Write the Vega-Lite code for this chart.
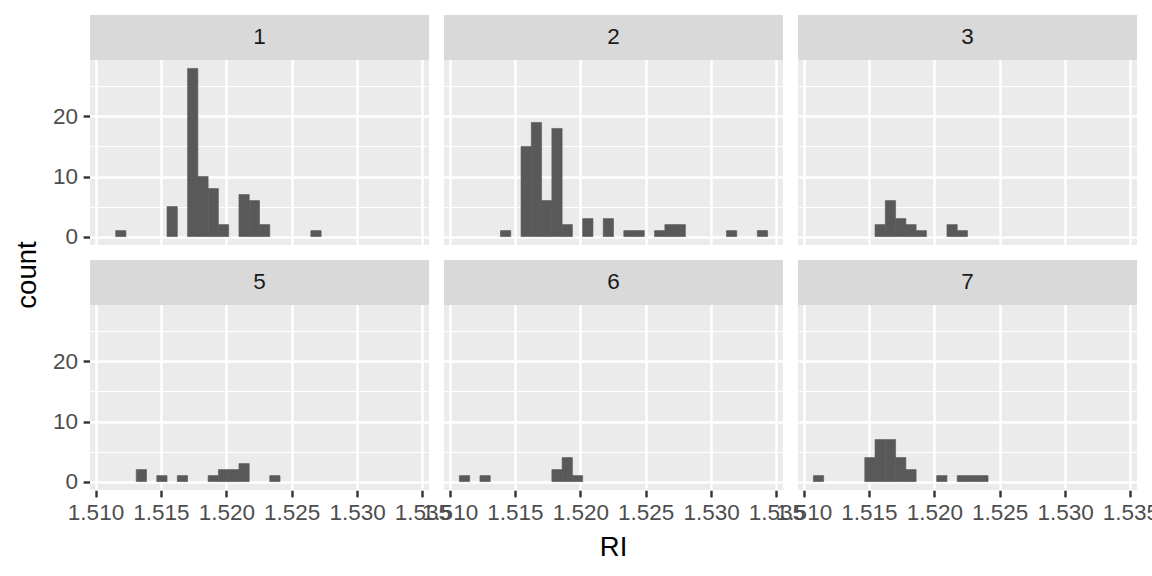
{
  "$schema": "https://vega.github.io/schema/vega-lite/v6.json",
  "autosize": {"type": "pad"},
  "padding": {"left": 8, "top": 15, "right": 15, "bottom": 5},
  "background": "white",
  "config": {
    "font": "Liberation Sans",
    "view": {"stroke": null, "fill": "#EBEBEB"},
    "concat": {"spacing": 4},
    "header": {"labels": false, "title": null, "labelFontSize": 0, "labelPadding": 0},
    "headerFacet": {"labels": false, "title": null, "labelFontSize": 0, "labelPadding": 0}
  },
  "datasets": {
    "hist": [
      {"type": 1, "lo": 1.511543, "hi": 1.512328, "count": 1},
      {"type": 1, "lo": 1.515470, "hi": 1.516256, "count": 5},
      {"type": 1, "lo": 1.517041, "hi": 1.517827, "count": 28},
      {"type": 1, "lo": 1.517827, "hi": 1.518612, "count": 10},
      {"type": 1, "lo": 1.518612, "hi": 1.519398, "count": 8},
      {"type": 1, "lo": 1.519398, "hi": 1.520183, "count": 2},
      {"type": 1, "lo": 1.520969, "hi": 1.521754, "count": 7},
      {"type": 1, "lo": 1.521754, "hi": 1.522540, "count": 6},
      {"type": 1, "lo": 1.522540, "hi": 1.523326, "count": 2},
      {"type": 1, "lo": 1.526468, "hi": 1.527253, "count": 1},
      {"type": 2, "lo": 1.513899, "hi": 1.514685, "count": 1},
      {"type": 2, "lo": 1.515470, "hi": 1.516256, "count": 15},
      {"type": 2, "lo": 1.516256, "hi": 1.517041, "count": 19},
      {"type": 2, "lo": 1.517041, "hi": 1.517827, "count": 6},
      {"type": 2, "lo": 1.517827, "hi": 1.518612, "count": 18},
      {"type": 2, "lo": 1.518612, "hi": 1.519398, "count": 2},
      {"type": 2, "lo": 1.520183, "hi": 1.520969, "count": 3},
      {"type": 2, "lo": 1.521754, "hi": 1.522540, "count": 3},
      {"type": 2, "lo": 1.523326, "hi": 1.524111, "count": 1},
      {"type": 2, "lo": 1.524111, "hi": 1.524897, "count": 1},
      {"type": 2, "lo": 1.525682, "hi": 1.526468, "count": 1},
      {"type": 2, "lo": 1.526468, "hi": 1.527253, "count": 2},
      {"type": 2, "lo": 1.527253, "hi": 1.528039, "count": 2},
      {"type": 2, "lo": 1.531181, "hi": 1.531966, "count": 1},
      {"type": 2, "lo": 1.533537, "hi": 1.534323, "count": 1},
      {"type": 3, "lo": 1.515470, "hi": 1.516256, "count": 2},
      {"type": 3, "lo": 1.516256, "hi": 1.517041, "count": 6},
      {"type": 3, "lo": 1.517041, "hi": 1.517827, "count": 3},
      {"type": 3, "lo": 1.517827, "hi": 1.518612, "count": 2},
      {"type": 3, "lo": 1.518612, "hi": 1.519398, "count": 1},
      {"type": 3, "lo": 1.520969, "hi": 1.521754, "count": 2},
      {"type": 3, "lo": 1.521754, "hi": 1.522540, "count": 1},
      {"type": 5, "lo": 1.513114, "hi": 1.513899, "count": 2},
      {"type": 5, "lo": 1.514685, "hi": 1.515470, "count": 1},
      {"type": 5, "lo": 1.516256, "hi": 1.517041, "count": 1},
      {"type": 5, "lo": 1.518612, "hi": 1.519398, "count": 1},
      {"type": 5, "lo": 1.519398, "hi": 1.520183, "count": 2},
      {"type": 5, "lo": 1.520183, "hi": 1.520969, "count": 2},
      {"type": 5, "lo": 1.520969, "hi": 1.521754, "count": 3},
      {"type": 5, "lo": 1.523326, "hi": 1.524111, "count": 1},
      {"type": 6, "lo": 1.510757, "hi": 1.511543, "count": 1},
      {"type": 6, "lo": 1.512328, "hi": 1.513114, "count": 1},
      {"type": 6, "lo": 1.517827, "hi": 1.518612, "count": 2},
      {"type": 6, "lo": 1.518612, "hi": 1.519398, "count": 4},
      {"type": 6, "lo": 1.519398, "hi": 1.520183, "count": 1},
      {"type": 7, "lo": 1.510757, "hi": 1.511543, "count": 1},
      {"type": 7, "lo": 1.514685, "hi": 1.515470, "count": 4},
      {"type": 7, "lo": 1.515470, "hi": 1.516256, "count": 7},
      {"type": 7, "lo": 1.516256, "hi": 1.517041, "count": 7},
      {"type": 7, "lo": 1.517041, "hi": 1.517827, "count": 4},
      {"type": 7, "lo": 1.517827, "hi": 1.518612, "count": 2},
      {"type": 7, "lo": 1.520183, "hi": 1.520969, "count": 1},
      {"type": 7, "lo": 1.521754, "hi": 1.522540, "count": 1},
      {"type": 7, "lo": 1.522540, "hi": 1.523326, "count": 1},
      {"type": 7, "lo": 1.523326, "hi": 1.524111, "count": 1}
    ]
  },
  "hconcat": [
    {
      "width": 40,
      "height": 520,
      "view": {"fill": null, "stroke": null},
      "data": {"values": [{"label": "count"}]},
      "mark": {"type": "text", "angle": 270, "fontSize": 27.5, "color": "black", "align": "center", "baseline": "middle"},
      "encoding": {"text": {"field": "label", "type": "nominal"}}
    },
    {
      "data": {"name": "hist"},
      "title": {"text": "RI", "orient": "bottom", "anchor": "middle", "frame": "bounds", "fontSize": 27.5, "fontWeight": "normal", "color": "black", "offset": 10, "dx": 8},
      "facet": {"field": "type", "type": "ordinal", "header": {"title": null, "labels": false, "labelFontSize": 0, "labelPadding": 0}},
      "columns": 3,
      "spacing": {"row": 15, "column": 15},
      "spec": {
        "width": 339,
        "height": 230,
        "layer": [
          {
            "mark": {"type": "rect", "fill": "#595959", "stroke": "#595959", "strokeWidth": 0.6},
            "encoding": {
              "x": {
                "field": "lo", "type": "quantitative",
                "scale": {"domain": [1.509579, 1.535501], "nice": false, "zero": false},
                "axis": {
                  "title": null,
                  "domain": false,
                  "values": [1.51, 1.5125, 1.515, 1.5175, 1.52, 1.5225, 1.525, 1.5275, 1.53, 1.5325, 1.535],
                  "labelExpr": "abs(datum.value*200 - round(datum.value*200)) < 0.01 ? format(datum.value, '.3f') : ''",
                  "labelFlush": false,
                  "labelOverlap": false,
                  "labelBound": false,
                  "labelFontSize": 22.5,
                  "labelColor": "#4D4D4D",
                  "labelPadding": 4.5,
                  "gridColor": "white",
                  "gridWidth": {"condition": {"test": "abs(datum.value*200 - round(datum.value*200)) < 0.01", "value": 2.4}, "value": 1.2},
                  "tickColor": "#333333",
                  "tickSize": 6.9,
                  "tickWidth": 2.4,
                  "tickOpacity": {"condition": {"test": "abs(datum.value*200 - round(datum.value*200)) < 0.01", "value": 1}, "value": 0}
                }
              },
              "x2": {"field": "hi"},
              "y": {
                "field": "count", "type": "quantitative",
                "scale": {"domain": [-1.4, 36.89], "nice": false, "zero": false},
                "axis": {
                  "title": null,
                  "domain": false,
                  "values": [0, 5, 10, 15, 20, 25],
                  "labelExpr": "datum.value % 10 == 0 ? datum.label : ''",
                  "labelFontSize": 22.5,
                  "labelColor": "#4D4D4D",
                  "labelPadding": 5.5,
                  "gridColor": "white",
                  "gridWidth": {"condition": {"test": "datum.value % 10 == 0", "value": 2.4}, "value": 1.2},
                  "tickColor": "#333333",
                  "tickSize": 6.9,
                  "tickWidth": 2.4,
                  "tickOpacity": {"condition": {"test": "datum.value % 10 == 0", "value": 1}, "value": 0}
                }
              },
              "y2": {"datum": 0}
            }
          },
          {
            "transform": [{"aggregate": [{"op": "count", "as": "n"}], "groupby": ["type"]}],
            "mark": {"type": "rect", "fill": "#D9D9D9"},
            "encoding": {
              "x": {"datum": 1.509579, "type": "quantitative"},
              "x2": {"datum": 1.535501},
              "y": {"datum": 29.4, "type": "quantitative"},
              "y2": {"datum": 36.89}
            }
          },
          {
            "transform": [{"aggregate": [{"op": "count", "as": "n"}], "groupby": ["type"]}],
            "mark": {"type": "text", "fontSize": 22.5, "color": "#1A1A1A", "align": "center", "baseline": "middle"},
            "encoding": {
              "x": {"datum": 1.52254, "type": "quantitative"},
              "y": {"datum": 33.145, "type": "quantitative"},
              "text": {"field": "type", "type": "nominal"}
            }
          }
        ]
      }
    }
  ]
}
